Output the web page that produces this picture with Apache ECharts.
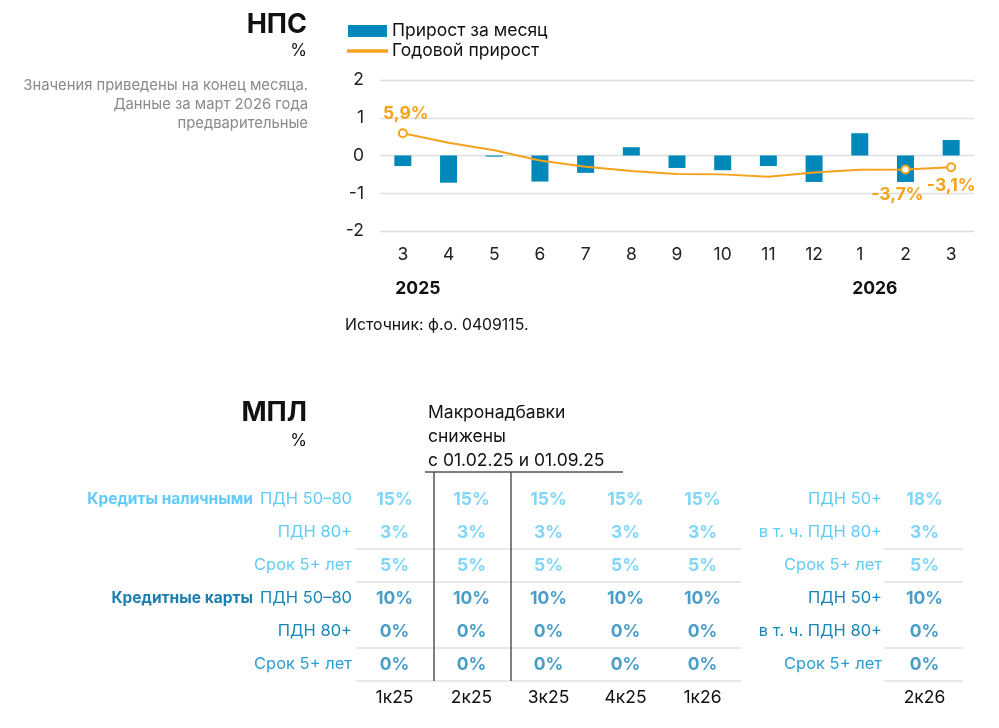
<!DOCTYPE html>
<html>
<head>
<meta charset="utf-8">
<script src="https://cdn.jsdelivr.net/npm/echarts@6/dist/echarts.min.js"></script>
<style>
  html, body { margin: 0; padding: 0; background: #fff; }
  #main { width: 999px; height: 728px; }
</style>
</head>
<body>
<div id="main"></div>
<script>
// НПС: месяцы, прирост за месяц и годовой прирост, %
var months = ['3', '4', '5', '6', '7', '8', '9', '10', '11', '12', '1', '2', '3'];
var monthYears = ['2025', '2025', '2025', '2025', '2025', '2025', '2025', '2025', '2025', '2025', '2026', '2026', '2026'];
var monthly = [-0.28, -0.72, -0.03, -0.69, -0.46, 0.22, -0.33, -0.39, -0.28, -0.70, 0.59, -0.70, 0.41];
var annual = [5.9, 3.4, 1.4, -1.3, -3.0, -4.1, -4.9, -5.0, -5.6, -4.5, -3.8, -3.7, -3.1];
var yTicks = [-2, -1, 0, 1, 2];

// МПЛ: кварталы и надбавки, %
var quarters = ['1к25', '2к25', '3к25', '4к25', '1к26'];
var rowLabels = ['ПДН 50–80', 'ПДН 80+', 'Срок 5+ лет', 'ПДН 50–80', 'ПДН 80+', 'Срок 5+ лет'];
var cashPdn5080 = [15, 15, 15, 15, 15];
var cashPdn80 = [3, 3, 3, 3, 3];
var cashTerm = [5, 5, 5, 5, 5];
var cardPdn5080 = [10, 10, 10, 10, 10];
var cardPdn80 = [0, 0, 0, 0, 0];
var cardTerm = [0, 0, 0, 0, 0];
var newQuarter = ['2к26'];
var newRowLabels = ['ПДН 50+', 'в т. ч. ПДН 80+', 'Срок 5+ лет', 'ПДН 50+', 'в т. ч. ПДН 80+', 'Срок 5+ лет'];
var newValues = [18, 3, 5, 10, 0, 0];

var FONT = 'Inter, "Noto Sans", sans-serif';
var BLUE = '#0088bb';
var ORANGE = '#f5a21c';
var LIGHT = '#62ccf7';
var DARK = '#1a86ba';
var GROUP_DARK = '#1a7fb0';
var MID = '#2c9dd2';

// таблица: размеры сетки
var T_LEFT = 356, T_TOP = 483, COL_W = 77, ROW_H = 33;
var R_LEFT = 886;

var myChart = echarts.init(document.getElementById('main'));

function pct(v) {
    return String(v).replace('.', ',') + '%';
}

// точки с подписями на линии
var labelled = {0: {position: 'top', distance: 5, offset: [3, 0]},
                11: {position: 'bottom', distance: 11, offset: [-8, 0]},
                12: {position: 'bottom', distance: 5, offset: [0, 0]}};
var annualData = annual.map(function (v, i) {
    var item = {value: v};
    if (labelled[i]) {
        item.symbol = 'emptyCircle';
        item.symbolSize = 8;
        item.label = {show: true, position: labelled[i].position, distance: labelled[i].distance, offset: labelled[i].offset};
    } else {
        item.symbol = 'none';
    }
    return item;
});

// данные таблицы
var cashRows = [cashPdn5080, cashPdn80, cashTerm];
var cardRows = [cardPdn5080, cardPdn80, cardTerm];
var cashCells = [], cardCells = [];
cashRows.forEach(function (row, r) {
    row.forEach(function (v, c) { cashCells.push([c, r, v]); });
});
cardRows.forEach(function (row, r) {
    row.forEach(function (v, c) { cardCells.push([c, r + 3, v]); });
});
var newCash = [], newCard = [];
newValues.forEach(function (v, r) {
    if (r < 3) newCash.push([0, r, v]); else newCard.push([0, r, v]);
});

function cellSeries(x, y, data, color) {
    return {
        type: 'scatter',
        xAxisIndex: x,
        yAxisIndex: y,
        data: data,
        symbolSize: 1,
        itemStyle: {color: 'transparent'},
        silent: true,
        label: {
            show: true,
            position: 'inside',
            formatter: function (p) { return p.value[2] + '%'; },
            color: color,
            fontFamily: FONT,
            fontWeight: 'bold',
            fontSize: 17.5
        }
    };
}

var rich = {
    gc: {color: LIGHT, fontWeight: 'bold', fontSize: 15.5, fontFamily: FONT},
    gk: {color: GROUP_DARK, fontWeight: 'bold', fontSize: 15.5, fontFamily: FONT},
    sp: {fontSize: 12, width: 7},
    c: {color: LIGHT, fontSize: 16.5, fontFamily: FONT},
    k: {color: DARK, fontSize: 16.5, fontFamily: FONT},
    m: {color: MID, fontSize: 16.5, fontFamily: FONT}
};
var rowStyle = ['c', 'c', 'c', 'k', 'k', 'm'];
var newRowStyle = ['c', 'c', 'c', 'k', 'k', 'm'];

// линии таблицы
var lines = [];
function hline(x1, x2, y, color, w) {
    lines.push({type: 'line', silent: true, shape: {x1: x1, y1: y, x2: x2, y2: y}, style: {stroke: color, lineWidth: w}});
}
[2, 3, 5, 6].forEach(function (k) {
    hline(T_LEFT, T_LEFT + COL_W * quarters.length, T_TOP + ROW_H * k, '#d2d2d2', 1.2);
    hline(R_LEFT - 2, R_LEFT + COL_W, T_TOP + ROW_H * k, '#d2d2d2', 1.2);
});
hline(425, 623, 472, '#555', 1.3);
[1, 2].forEach(function (k) {
    var x = T_LEFT + COL_W * k + 1;
    lines.push({type: 'line', silent: true, shape: {x1: x, y1: 472, x2: x, y2: T_TOP + ROW_H * 6}, style: {stroke: '#555', lineWidth: 1.5}});
});

function txt(x, y, text, size, opts) {
    opts = opts || {};
    return {
        type: 'text', silent: true,
        style: {
            text: text, x: x, y: y,
            fill: opts.color || '#111',
            font: (opts.weight || 'normal') + ' ' + size + 'px ' + FONT,
            textAlign: opts.align || 'left',
            textVerticalAlign: 'middle'
        }
    };
}
var texts = [
    txt(307, 25, 'НПС', 27, {weight: 'bold', align: 'right'}),
    txt(307, 51, '%', 17, {align: 'right'}),
    txt(308, 86, 'Значения приведены на конец месяца.', 14.8, {align: 'right', color: '#8a8a8a'}),
    txt(308, 105, 'Данные за март 2026 года', 14.8, {align: 'right', color: '#8a8a8a'}),
    txt(308, 124, 'предварительные', 14.8, {align: 'right', color: '#8a8a8a'}),
    txt(345, 325, 'Источник: ф.о. 0409115.', 15.8),
    txt(307, 413, 'МПЛ', 27, {weight: 'bold', align: 'right'}),
    txt(307, 441, '%', 17, {align: 'right'}),
    txt(428, 413, 'Макронадбавки', 17.5),
    txt(428, 437, 'снижены', 17.5),
    txt(428, 461, 'с 01.02.25 и 01.09.25', 17.5)
];

var option = {
    animation: false,
    textStyle: {fontFamily: FONT},
    legend: {
        orient: 'vertical',
        left: 342,
        top: 17,
        itemGap: 2,
        itemWidth: 39,
        itemHeight: 12,
        textStyle: {fontSize: 17.5, color: '#111', fontFamily: FONT},
        data: [
            {name: 'Прирост за месяц', icon: 'rect'},
            {name: 'Годовой прирост', icon: 'path://M0,0 L40,0 L40,1.6 L0,1.6 Z'}
        ]
    },
    grid: [
        {left: 380, top: 80, width: 594, height: 151, outerBoundsMode: 'none'},
        {left: T_LEFT, top: T_TOP, width: COL_W * quarters.length, height: ROW_H * 6, outerBoundsMode: 'none'},
        {left: R_LEFT, top: T_TOP, width: COL_W, height: ROW_H * 6, outerBoundsMode: 'none'}
    ],
    xAxis: [
        {
            gridIndex: 0, type: 'category', data: months,
            axisLine: {show: false}, axisTick: {show: false},
            axisLabel: {fontSize: 17.5, color: '#222', margin: 15, interval: 0}
        },
        {
            gridIndex: 0, type: 'category', data: months, position: 'bottom', offset: 34,
            axisLine: {show: false}, axisTick: {show: false},
            axisLabel: {
                fontSize: 17.5, color: '#111', fontWeight: 'bold', margin: 15, interval: 0, align: 'center',
                formatter: function (v, i) {
                    return (i === 0 || monthYears[i] !== monthYears[i - 1]) ? '{y|' + monthYears[i] + '}' : '';
                },
                rich: {y: {fontSize: 17.5, fontWeight: 'bold', color: '#111', padding: [0, 0, 0, 30]}}
            }
        },
        {
            gridIndex: 1, type: 'category', data: quarters, position: 'bottom',
            axisLine: {show: false}, axisTick: {show: false},
            axisLabel: {fontSize: 17.5, color: '#111', margin: 8}
        },
        {
            gridIndex: 2, type: 'category', data: newQuarter, position: 'bottom',
            axisLine: {show: false}, axisTick: {show: false},
            axisLabel: {fontSize: 17.5, color: '#111', margin: 8}
        }
    ],
    yAxis: [
        {
            gridIndex: 0, type: 'value', min: yTicks[0], max: yTicks[yTicks.length - 1], interval: 1,
            axisLine: {show: false}, axisTick: {show: false},
            axisLabel: {fontSize: 17.5, color: '#222', margin: 16},
            splitLine: {lineStyle: {color: '#dedede', width: 1.3}}
        },
        {
            gridIndex: 0, type: 'value', min: -20, max: 20, show: false,
            splitLine: {show: false}
        },
        {
            gridIndex: 1, type: 'category', data: rowLabels, inverse: true,
            axisLine: {show: false}, axisTick: {show: false}, splitLine: {show: false},
            axisLabel: {
                margin: 4, interval: 0, rich: rich,
                formatter: function (v, i) {
                    var s = '{' + rowStyle[i] + '|' + v + '}';
                    if (i === 0) s = '{gc|Кредиты наличными}{sp| }' + s;
                    if (i === 3) s = '{gk|Кредитные карты}{sp| }' + s;
                    return s;
                }
            }
        },
        {
            gridIndex: 2, type: 'category', data: newRowLabels, inverse: true,
            axisLine: {show: false}, axisTick: {show: false}, splitLine: {show: false},
            axisLabel: {
                margin: 4, interval: 0, rich: rich,
                formatter: function (v, i) {
                    return '{' + newRowStyle[i] + '|' + v + '}';
                }
            }
        }
    ],
    series: [
        {
            name: 'Прирост за месяц',
            type: 'bar',
            xAxisIndex: 0, yAxisIndex: 0,
            data: monthly,
            barWidth: 17,
            itemStyle: {color: BLUE}
        },
        {
            name: 'Годовой прирост',
            type: 'line',
            xAxisIndex: 0, yAxisIndex: 1,
            data: annualData,
            symbol: 'none',
            lineStyle: {color: ORANGE, width: 2},
            itemStyle: {color: ORANGE, borderColor: ORANGE, borderWidth: 2},
            label: {
                show: false,
                formatter: function (p) { return pct(p.value); },
                color: ORANGE, fontWeight: 'bold', fontSize: 17.5, fontFamily: FONT
            },
            z: 5
        },
        cellSeries(2, 2, cashCells, LIGHT),
        cellSeries(2, 2, cardCells, DARK),
        cellSeries(3, 3, newCash, LIGHT),
        cellSeries(3, 3, newCard, DARK)
    ],
    graphic: lines.concat(texts)
};

myChart.setOption(option);
</script>
</body>
</html>
